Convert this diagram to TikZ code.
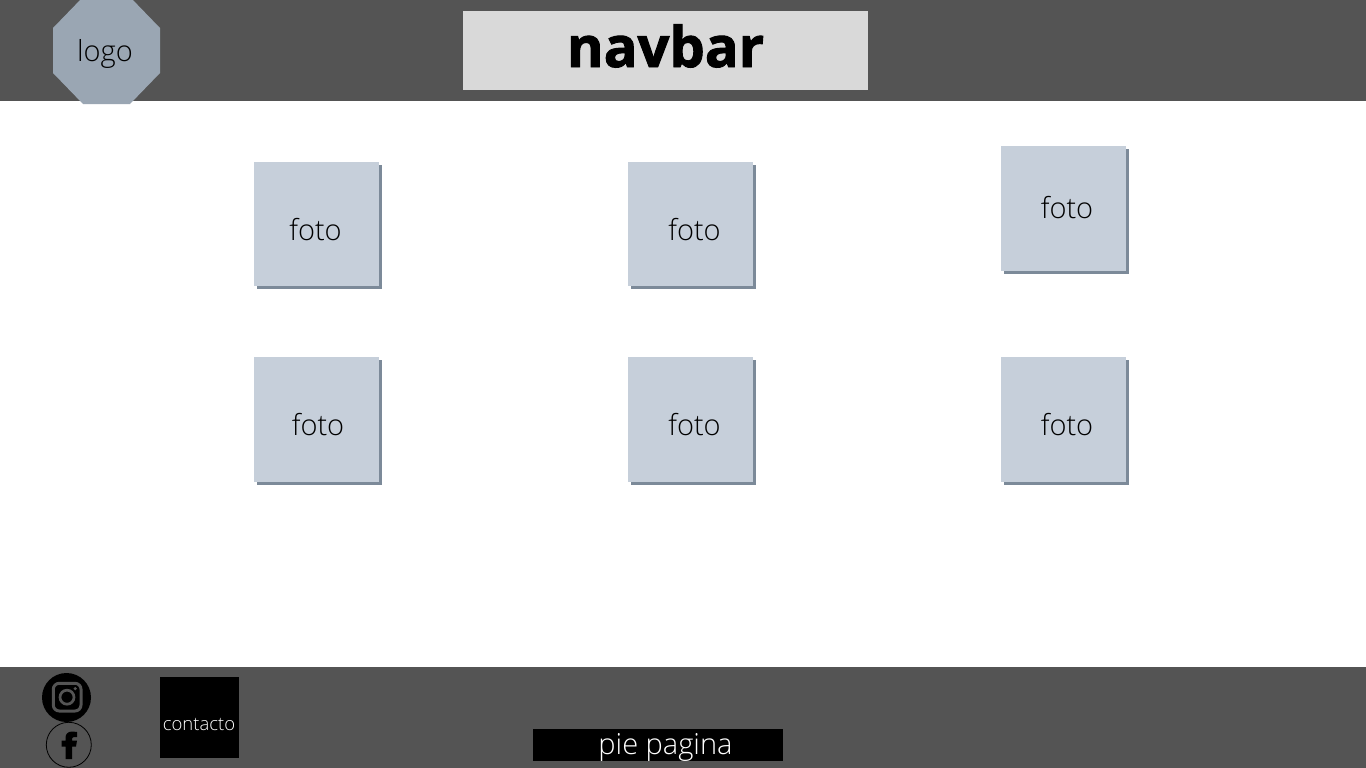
\documentclass[tikz,border=0pt]{standalone}
\usepackage{fontspec}
\setmainfont{Open Sans}
\newfontfamily\lightf{Open Sans Light}
\newfontfamily\heavyf[BoldFeatures={FakeBold=1.7}]{Open Sans}
\definecolor{band}{HTML}{545454}
\definecolor{navfill}{HTML}{D9D9D9}
\definecolor{octfill}{HTML}{9AA6B3}
\definecolor{fotofill}{HTML}{C6CFDA}
\definecolor{fotoshadow}{HTML}{7C8A99}
\tikzset{
  x=1pt,y=-1pt,
  lbl/.style={font=\lightf\fontsize{#1}{#1}\selectfont,inner sep=0pt,anchor=center},
}
\newcommand{\fotobox}[5]{%
  \fill[fotoshadow] (#1+3,#2+3) rectangle (#1+128,#2+127.5);
  \node[fill=fotofill,minimum width=125pt,minimum height=124.5pt,inner sep=0pt,anchor=north west,outer sep=0pt] (#5) at (#1,#2) {};
  \node[lbl=29,text=black] (#5t) at (#3,#4) {foto};
}
\begin{document}
\begin{tikzpicture}
\useasboundingbox (0,0) rectangle (1366,768);
\fill[white] (0,0) rectangle (1366,768);
\fill[band] (0,0) rectangle (1366,101);
\fill[band] (0,667) rectangle (1366,768);
\begin{scope}
\clip (0,0) rectangle (1366,768);
\fill[octfill] (83,-3) -- (130,-3) -- (160,28) -- (160,73) -- (130,104) -- (83,104) -- (53,73) -- (53,28) -- cycle;
\end{scope}
\node[lbl=29,text=black] (logo) at (105,54) {logo};
\fill[navfill] (463,11) rectangle (868,90.5);
\node[font=\heavyf\bfseries\fontsize{56}{56}\selectfont,inner sep=0pt,text=black] (navbar) at (665.5,46) {navbar};
\fotobox{254}{161.5}{315.5}{229.5}{fa}
\fotobox{627.5}{161.5}{694.5}{229.5}{fb}
\fotobox{1000.5}{146}{1067}{207.5}{fc}
\fotobox{254}{357}{318}{424.5}{fd}
\fotobox{627.5}{357}{694.5}{424.5}{fe}
\fotobox{1000.5}{357}{1067}{424.5}{ff}
% instagram
\fill[black] (66.5,697.5) circle (24.5);
\draw[band,line width=3pt,rounded corners=6pt] (53.3,683.3) rectangle (81,711);
\draw[band,line width=2.7pt] (67,697.2) circle (7);
\fill[band] (75.2,688.6) circle (1.8);
% facebook
\draw[black,line width=0.8pt] (68.8,744.8) circle (22.5);
\fill[black] (65.5,759) -- (65.5,746.5) -- (61.5,746.5) -- (61.5,740.5) -- (65.5,740.5) -- (65.5,737.5)
  .. controls (65.5,733.5) and (68.5,731.5) .. (72.5,731.5) -- (77,732) -- (77,737) -- (74.5,737)
  .. controls (72.8,737) and (72,737.8) .. (72,739) -- (72,740.5) -- (77,740.5) -- (76,746.5) -- (72,746.5) -- (72,759) -- cycle;
% contacto
\fill[black] (160,677) rectangle (239,757.5);
\node[lbl=18.5,text=white] (contacto) at (199,724) {contacto};
% pie
\fill[black] (533,729) rectangle (783,761);
\node[lbl=29,text=white] (pie) at (665.5,747) {pie pagina};
\end{tikzpicture}
\end{document}
